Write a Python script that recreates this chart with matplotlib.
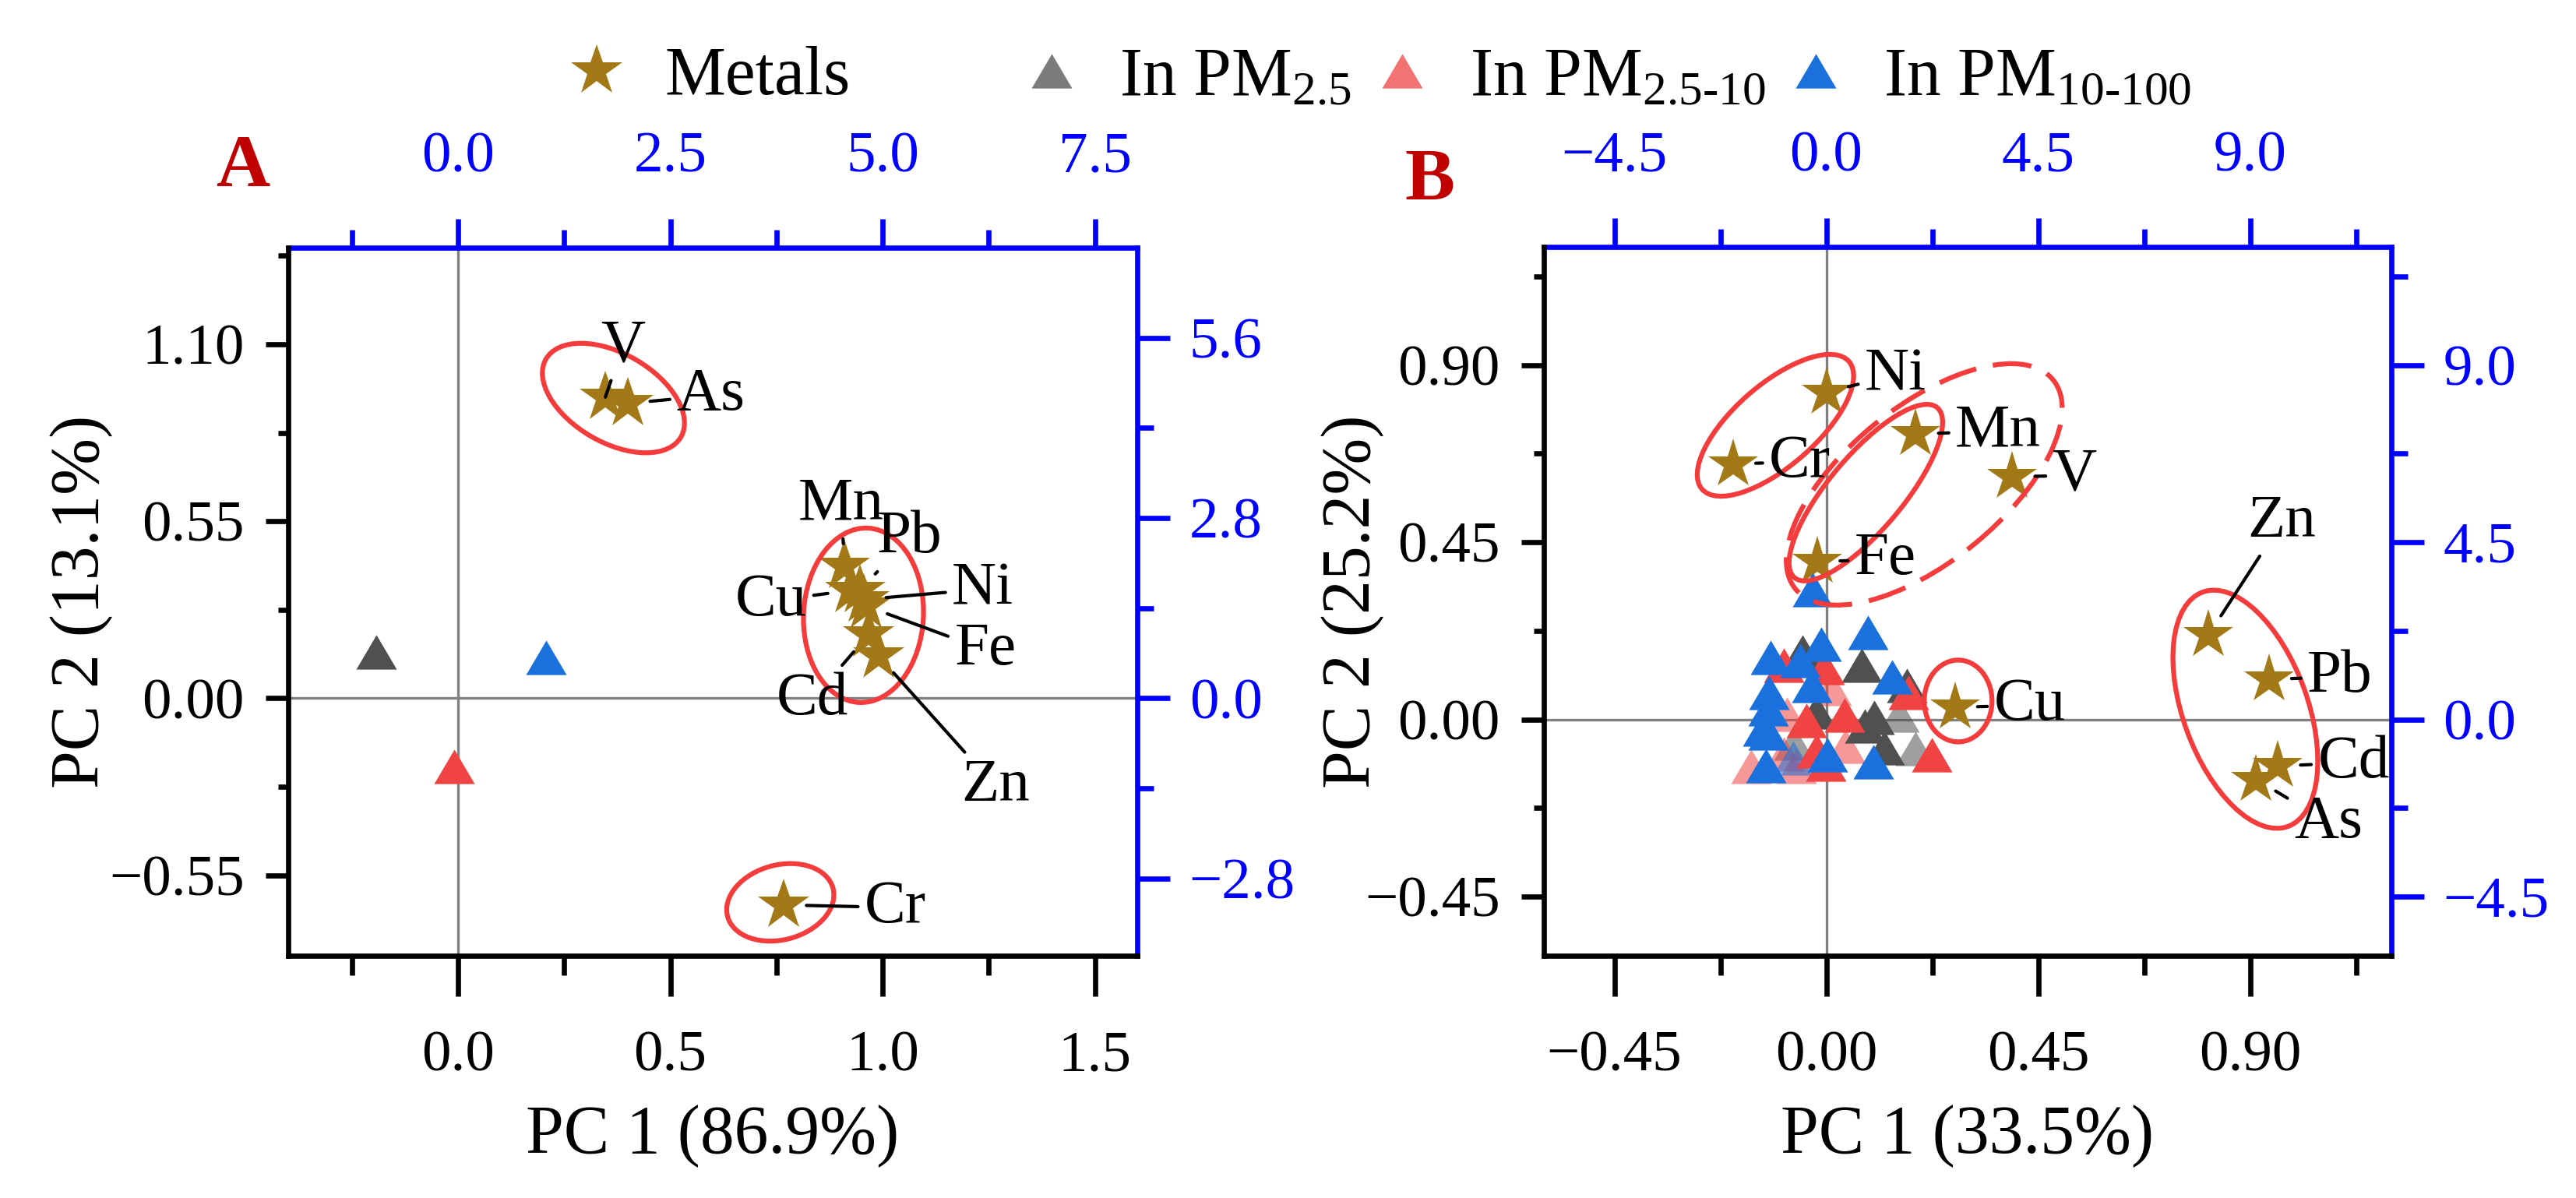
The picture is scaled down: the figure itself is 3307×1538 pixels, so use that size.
import matplotlib
matplotlib.use("Agg")
from matplotlib import pyplot as plt
from matplotlib.lines import Line2D
from matplotlib.patches import Ellipse
from matplotlib.ticker import FixedLocator, FuncFormatter
from matplotlib.transforms import ScaledTranslation

plt.rcParams["font.family"] = ["Liberation Serif", "DejaVu Serif"]
plt.rcParams["mathtext.fontset"] = "custom"
plt.rcParams["mathtext.rm"] = "Liberation Serif"
plt.rcParams["mathtext.it"] = "Liberation Serif:italic"
plt.rcParams["mathtext.bf"] = "Liberation Serif:bold"

# ---- panel A data ----
a_metals = ["V", "As", "Mn", "Cu", "Pb", "Ni", "Fe", "Cd", "Zn", "Cr"]
a_pc1 = [0.347, 0.399, 0.910, 0.924, 0.946, 0.955, 0.961, 0.967, 0.990, 0.767]
a_pc2 = [0.936, 0.916, 0.410, 0.335, 0.335, 0.307, 0.287, 0.198, 0.132, -0.642]
a_lab_x = [0.388, 0.595, 0.903, 0.738, 1.064, 1.236, 1.242, 0.835, 1.266, 1.03]
a_lab_y = [1.094, 0.941, 0.602, 0.303, 0.500, 0.339, 0.150, -0.004, -0.274, -0.65]
a_pm25 = ([-0.192], [0.143])
a_pm2510 = ([-0.009], [-0.211])
a_pm10100 = ([0.208], [0.126])

# axis ticks panel A (bottom / left / top / right)
a_xticks = [0.0, 0.5, 1.0, 1.5]
a_xminor = [-0.25, 0.25, 0.75, 1.25]
a_yticks = [-0.55, 0.0, 0.55, 1.10]
a_yminor = [-0.275, 0.275, 0.825, 1.375]
a_tticks = [0.0, 2.5, 5.0, 7.5]
a_tminor = [-1.25, 1.25, 3.75, 6.25]
a_rticks = [-2.8, 0.0, 2.8, 5.6]
a_rminor = [-1.4, 1.4, 4.2]

# ---- panel B data ----
b_metals = ["Ni", "Cr", "Mn", "V", "Fe", "Cu", "Zn", "Pb", "Cd", "As"]
b_pc1 = [0.000, -0.198, 0.190, 0.395, -0.019, 0.273, 0.812, 0.940, 0.959, 0.913]
b_pc2 = [0.831, 0.649, 0.725, 0.616, 0.401, 0.031, 0.215, 0.102, -0.118, -0.152]
b_lab_x = [0.147, -0.056, 0.365, 0.527, 0.125, 0.432, 0.968, 1.091, 1.120, 1.066]
b_lab_y = [0.875, 0.654, 0.732, 0.620, 0.406, 0.036, 0.502, 0.108, -0.110, -0.262]

b_pm25_x = [-0.051, 0.075, 0.171, 0.102, 0.082, 0.123, -0.021]
b_pm25_y = [0.171, 0.137, 0.086, 0.006, -0.017, -0.072, 0.019]
b_pm25_faint_x = [0.190, 0.154, -0.069]
b_pm25_faint_y = [-0.073, 0.012, -0.060]
b_pm2510_x = [-0.090, -0.004, 0.174, -0.042, 0.039, -0.021, 0.224, -0.001]
b_pm2510_y = [0.138, 0.131, 0.068, -0.002, 0.011, -0.079, -0.089, -0.113]
b_pm2510_faint_x = [0.010, -0.083, -0.090, 0.041, -0.063, -0.159]
b_pm2510_faint_y = [0.079, 0.013, -0.087, -0.067, -0.119, -0.119]
b_pm10100_x = [-0.029, 0.089, -0.011, -0.119, -0.056, 0.139, -0.030, -0.121,
               -0.124, -0.135, -0.124, 0.003, 0.100, -0.128]
b_pm10100_y = [0.329, 0.220, 0.191, 0.157, 0.150, 0.108, 0.086, 0.069,
               0.028, -0.024, -0.035, -0.089, -0.108, -0.117]
b_pm10100_faint_x = [-0.070]
b_pm10100_faint_y = [-0.097]

b_xticks = [-0.45, 0.0, 0.45, 0.90]
b_xminor = [-0.225, 0.225, 0.675, 1.125]
b_yticks = [-0.45, 0.0, 0.45, 0.90]
b_yminor = [-0.225, 0.225, 0.675, 1.125]
b_tticks = [-4.5, 0.0, 4.5, 9.0]
b_tminor = [-2.25, 2.25, 6.75, 11.25]
b_rticks = [-4.5, 0.0, 4.5, 9.0]
b_rminor = [-2.25, 2.25, 6.75, 11.25]

# group ellipses: centre (data), width/height (inches), angle, dashed
a_groups = [((0.366, 0.933), 0.667, 0.38, -30, False),
            ((0.955, 0.258), 0.747, 0.513, 87, False),
            ((0.759, -0.634), 0.467, 0.32, 15, False)]
b_groups = [((-0.108, 0.747), 0.833, 0.35, 41, False),
            ((0.084, 0.576), 0.95, 0.317, 50, False),
            ((0.208, 0.597), 1.42, 0.667, 39, True),
            ((0.280, 0.047), 0.29, 0.35, 0, False),
            ((0.890, 0.026), 1.067, 0.533, -70, False)]

STAR = "#a27916"
GREY = "#505050"
RED = "#f04444"
BLUE = "#1a70dc"
RING = "#f43c3c"
TRI = [(0, 0.85), (-1, -0.85), (1, -0.85), (0, 0.85)]

fig = plt.figure(figsize=(3307 / 300, 1538 / 300), dpi=300)


def fmt(dec):
    def f(v, pos):
        if abs(v) < 1e-9:
            v = 0.0
        return ("%.*f" % (dec, v)).replace("-", "\u2212")
    return FuncFormatter(f)


def panel(rect, xlim, ylim, ticks, decs, k):
    xt, xm, yt, ym, tt, tm, rt, rm = ticks
    xdec, ydec, kdec = decs
    ax = fig.add_axes(rect)
    ax.set_xlim(xlim)
    ax.set_ylim(ylim)
    ax.xaxis.set_major_locator(FixedLocator(xt))
    ax.xaxis.set_minor_locator(FixedLocator(xm))
    ax.yaxis.set_major_locator(FixedLocator(yt))
    ax.yaxis.set_minor_locator(FixedLocator(ym))
    ax.xaxis.set_major_formatter(fmt(xdec))
    ax.yaxis.set_major_formatter(fmt(ydec))
    for s in ["left", "bottom"]:
        ax.spines[s].set_linewidth(1.6)
    for s in ["top", "right"]:
        ax.spines[s].set_visible(False)
    ax.tick_params(axis="x", which="major", length=12.5, width=1.6, pad=10.5, labelsize=18)
    ax.tick_params(axis="x", which="minor", length=6, width=1.6)
    ax.tick_params(axis="y", which="major", length=7, width=1.6, pad=6.5, labelsize=18)
    ax.tick_params(axis="y", which="minor", length=3.2, width=1.6)
    ax.axhline(0, color="#808080", lw=0.8, zorder=0)
    ax.axvline(0, color="#808080", lw=0.8, zorder=0)

    top = ax.secondary_xaxis("top", functions=(lambda v: v * k, lambda v: v / k))
    top.xaxis.set_major_locator(FixedLocator(tt))
    top.xaxis.set_minor_locator(FixedLocator(tm))
    top.xaxis.set_major_formatter(fmt(kdec))
    top.spines["top"].set_color("blue")
    top.spines["top"].set_linewidth(1.6)
    top.tick_params(which="major", length=9, width=1.6, pad=10.5, labelsize=18,
                    colors="blue")
    top.tick_params(which="minor", length=5.5, width=1.6, colors="blue")

    right = ax.secondary_yaxis("right", functions=(lambda v: v * k, lambda v: v / k))
    right.yaxis.set_major_locator(FixedLocator(rt))
    right.yaxis.set_minor_locator(FixedLocator(rm))
    right.yaxis.set_major_formatter(fmt(kdec))
    right.spines["right"].set_color("blue")
    right.spines["right"].set_linewidth(1.6)
    right.tick_params(which="major", length=10, width=1.6, pad=6, labelsize=18,
                      colors="blue")
    right.tick_params(which="minor", length=5, width=1.6, colors="blue")
    return ax


def rings(ax, groups):
    for (cx, cy), w, h, ang, dashed in groups:
        tr = fig.dpi_scale_trans + ScaledTranslation(cx, cy, ax.transData)
        e = Ellipse((0, 0), w, h, angle=ang, transform=tr, fill=False,
                    ec=RING, lw=1.5, zorder=5,
                    ls=(0, (8, 3.5)) if dashed else "-")
        ax.add_patch(e)


def labels(ax, names, xs, ys, lx, ly):
    for n, x, y, tx, ty in zip(names, xs, ys, lx, ly):
        ax.annotate(n, xy=(x, y), xytext=(tx, ty), ha="center", va="center",
                    fontsize=19, zorder=6,
                    arrowprops=dict(arrowstyle="-", color="k", lw=1.0,
                                    shrinkA=0, shrinkB=7))


# ---------- panel A ----------
axA = panel([0.1119, 0.2022, 0.3296, 0.5910], (-0.4, 1.6), (-0.8, 1.4),
            (a_xticks, a_xminor, a_yticks, a_yminor,
             a_tticks, a_tminor, a_rticks, a_rminor), (1, 2, 1), 5)
axA.plot(a_pc1, a_pc2, ls="none", marker="*", ms=16.5, color=STAR, mew=0, zorder=3)
axA.plot(*a_pm25, ls="none", marker=TRI, ms=12.5, color=GREY, mew=0, zorder=4)
axA.plot(*a_pm2510, ls="none", marker=TRI, ms=12.5, color=RED, mew=0, zorder=4)
axA.plot(*a_pm10100, ls="none", marker=TRI, ms=12.5, color=BLUE, mew=0, zorder=4)
rings(axA, a_groups)
labels(axA, a_metals, a_pc1, a_pc2, a_lab_x, a_lab_y)
axA.set_xlabel("PC 1 (86.9%)", fontsize=21)
axA.set_ylabel("PC 2 (13.1%)", fontsize=21)
axA.xaxis.set_label_coords(0.5, -0.21)
axA.yaxis.set_label_coords(-0.206, 0.5)

# ---------- panel B ----------
axB = panel([0.5993, 0.2022, 0.3290, 0.5917], (-0.6, 1.2), (-0.6, 1.2),
            (b_xticks, b_xminor, b_yticks, b_yminor,
             b_tticks, b_tminor, b_rticks, b_rminor), (2, 2, 1), 10)
axB.plot(b_pc1, b_pc2, ls="none", marker="*", ms=16, color=STAR, mew=0, zorder=2)
axB.plot(b_pm25_faint_x, b_pm25_faint_y, ls="none", marker=TRI, ms=12.5,
         color=GREY, alpha=0.55, mew=0, zorder=3)
axB.plot(b_pm2510_faint_x, b_pm2510_faint_y, ls="none", marker=TRI, ms=12.5,
         color=RED, alpha=0.55, mew=0, zorder=3)
axB.plot(b_pm10100_faint_x, b_pm10100_faint_y, ls="none", marker=TRI, ms=12.5,
         color=BLUE, alpha=0.55, mew=0, zorder=3)
axB.plot(b_pm25_x, b_pm25_y, ls="none", marker=TRI, ms=12.5, color=GREY, mew=0, zorder=3)
axB.plot(b_pm2510_x, b_pm2510_y, ls="none", marker=TRI, ms=12.5, color=RED, mew=0, zorder=3)
axB.plot(b_pm10100_x, b_pm10100_y, ls="none", marker=TRI, ms=12.5, color=BLUE, mew=0, zorder=3)
rings(axB, b_groups)
labels(axB, b_metals, b_pc1, b_pc2, b_lab_x, b_lab_y)
axB.set_xlabel("PC 1 (33.5%)", fontsize=21)
axB.set_ylabel("PC 2 (25.2%)", fontsize=21)
axB.xaxis.set_label_coords(0.5, -0.21)
axB.yaxis.set_label_coords(-0.188, 0.5)

# ---------- legend ----------
handles = [Line2D([], [], ls="none", marker="*", ms=16.5, color=STAR, mew=0),
           Line2D([], [], ls="none", marker=TRI, ms=12.5, color=GREY, alpha=0.75, mew=0),
           Line2D([], [], ls="none", marker=TRI, ms=12.5, color=RED, alpha=0.75, mew=0),
           Line2D([], [], ls="none", marker=TRI, ms=12.5, color=BLUE, mew=0)]
names = ["Metals", r"In PM$_{2.5}$", r"In PM$_{2.5\text{-}10}$", r"In PM$_{10\text{-}100}$"]
for h, n, x0 in zip(handles, names, [0.2183, 0.3949, 0.531, 0.6916]):
    fig.legend([h], [n], loc="center left", bbox_to_anchor=(x0, 0.935),
               frameon=False, fontsize=21, handlelength=1.0, handletextpad=0.5,
               borderpad=0, borderaxespad=0)

fig.text(312 / 3307, 1 - 216 / 1538, "A", color="#c00000", fontsize=23,
         fontweight="bold", ha="center", va="center")
fig.text(1835 / 3307, 1 - 234 / 1538, "B", color="#c00000", fontsize=23,
         fontweight="bold", ha="center", va="center")

fig.savefig("out.png", dpi=300)
